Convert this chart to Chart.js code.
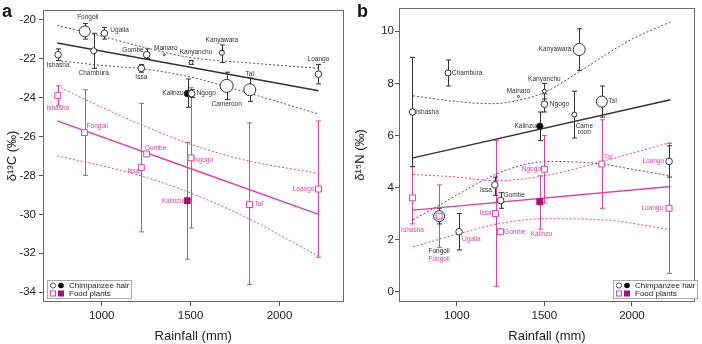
<!DOCTYPE html>
<html>
<head>
<meta charset="utf-8">
<script src="https://cdn.jsdelivr.net/npm/chart.js@4.4.1/dist/chart.umd.min.js"></script>
<style>
  html, body { margin: 0; padding: 0; background: #fff; }
  #wrap { position: relative; width: 702px; height: 344px; }
  canvas { position: absolute; top: 0; }
  #chartA { left: 0; }
  #chartB { left: 351px; }
</style>
</head>
<body>
<div id="wrap">
  <canvas id="chartA" width="351" height="344"></canvas>
  <canvas id="chartB" width="351" height="344"></canvas>
</div>
<script>
const FONT = "'Liberation Sans', Arial, sans-serif";
const DARK = '#333333';
const PINK = '#d944a5';
const PLUM = '#a3136f';

// tick labels
const rainTicks = [1000, 1500, 2000];
const c13Ticks = [-34, -32, -30, -28, -26, -24, -22, -20];
const n15Ticks = [0, 2, 4, 6, 8, 10];

// ---------- panel a: delta 13C ----------
const hairSitesA = ['Ishasha', 'Fongoli', 'Chambura', 'Ugalla', 'Issa', 'Gombe', 'Mainaro', 'Kalinzu', 'Kanyanchu', 'Ngogo', 'Kanyawara', 'Cameroon', 'Tai', 'Loango'];
const hairRainA = [755, 905, 955, 1015, 1223, 1253, 1352, 1483, 1502, 1506, 1676, 1703, 1833, 2219];
const hairC13 = [-21.8, -20.6, -21.6, -20.7, -22.5, -21.8, -21.8, -23.8, -22.2, -23.8, -21.7, -23.4, -23.6, -22.8];
const hairC13Hi = [-21.5, -20.2, -20.7, -20.4, -22.3, -21.5, null, -23.05, -22.1, -23.6, -21.3, -22.7, -23.0, -22.3];
const hairC13Lo = [-22.1, -21.0, -22.5, -21.0, -22.7, -22.0, null, -24.5, -22.3, -24.0, -22.2, -24.1, -24.2, -23.3];

const plantSitesA = ['Ishasha', 'Fongoli', 'Issa', 'Gombe', 'Kalinzu', 'Ngogo', 'Tai', 'Loango'];
const plantRainA = [753, 904, 1223, 1253, 1481, 1502, 1831, 2219];
const plantC13 = [-23.9, -25.8, -27.6, -26.9, -29.3, -27.1, -29.5, -28.7];
const plantC13Hi = [-23.4, -23.6, -24.3, null, -26.3, -23.5, -25.3, -25.2];
const plantC13Lo = [-24.4, -28.0, -30.9, null, -32.3, -30.7, -33.6, -32.2];

const fitRain = [750, 2220];
const hairFitC13 = [-21.2, -23.65];
const plantFitC13 = [-25.2, -30.0];
const bandRainA = [750, 1000, 1250, 1500, 1800, 2220];
const hairC13Upper = [-20.3, -20.85, -21.45, -21.95, -22.2, -22.5];
const hairC13Lower = [-22.1, -22.35, -22.55, -22.95, -23.7, -24.85];
const plantC13Upper = [-23.4, -24.5, -25.5, -26.4, -27.2, -27.9];
const plantC13Lower = [-27.0, -27.5, -28.1, -28.9, -30.1, -32.15];

// ---------- panel b: delta 15N ----------
const hairSitesB = ['Ishasha', 'Fongoli', 'Chambura', 'Ugalla', 'Issa', 'Gombe', 'Mainaro', 'Kalinzu', 'Kanyanchu', 'Ngogo', 'Cameroon', 'Kanyawara', 'Tai', 'Loango'];
const hairRainB = [747, 899, 950, 1013, 1217, 1250, 1352, 1474, 1500, 1500, 1671, 1699, 1828, 2212];
const hairN15 = [6.9, 2.9, 8.4, 2.3, 4.1, 3.5, 7.5, 6.35, 7.7, 7.2, 6.8, 9.3, 7.3, 5.0];
const hairN15Hi = [9.0, 3.2, 8.9, 3.0, 4.4, 3.8, null, 6.9, 8.0, 7.6, 7.7, 10.1, 7.9, 5.6];
const hairN15Lo = [4.8, 2.6, 7.9, 1.6, 3.7, 3.2, null, 5.8, 7.4, 6.9, 5.9, 8.5, 6.7, 4.4];

const plantSitesB = ['Ishasha', 'Fongoli', 'Issa', 'Gombe', 'Kalinzu', 'Ngogo', 'Tai', 'Loango'];
const plantRainB = [747, 899, 1221, 1250, 1474, 1500, 1828, 2212];
const plantN15 = [3.6, 2.9, 3.0, 2.3, 3.45, 4.7, 4.9, 3.2];
const plantN15Hi = [4.8, 4.1, 5.8, null, 4.45, 6.0, 6.6, 5.7];
const plantN15Lo = [2.6, 1.7, 0.2, null, 2.4, 3.4, 3.2, 0.7];

const hairFitN15 = [5.14, 7.37];
const plantFitN15 = [3.13, 4.04];
const hairUpperRainB = [750, 1000, 1200, 1350, 1500, 1700, 1850, 2000, 2220];
const hairN15Upper = [7.52, 7.3, 7.22, 7.35, 7.65, 8.45, 9.1, 9.7, 10.36];
const hairLowerRainB = [750, 900, 1000, 1220, 1400, 1550, 1830, 2000, 2220];
const hairN15Lower = [2.76, 3.32, 3.71, 4.5, 4.9, 5.0, 4.9, 4.7, 4.45];
const plantBandRainB = [750, 1000, 1220, 1500, 1830, 2220];
const plantN15Upper = [4.5, 4.4, 4.26, 4.45, 5.0, 5.73];
const plantN15Lower = [1.72, 2.2, 2.58, 2.8, 2.76, 2.38];

// marker radii (sample size), per panel
const hairRadiusA = [3.3, 5.5, 3, 3.3, 3.3, 3.3, 1, 3.3, 2, 3.3, 2.5, 6.5, 6, 3.3];
const hairRadiusB = [3.3, 5.5, 3, 3.3, 3.3, 3.3, 1, 3.3, 2, 3.3, 2.5, 6, 5.5, 3.3];

function pts(xs, ys) {
    return xs.map((x, i) => ({ x: x, y: ys[i] }));
}

function line(xs, ys, color, dash, width) {
    return {
        data: pts(xs, ys), showLine: true, pointRadius: 0,
        borderColor: color, borderWidth: width, borderDash: dash,
        cubicInterpolationMode: 'monotone', fill: false
    };
}

function buildDatasets(p) {
    const hairFill = p.hair.sites.map(s => s === 'Kalinzu' ? '#000' : '#fff');
    const plantFill = p.plant.sites.map(s => s === 'Kalinzu' ? PLUM : '#fff');
    const plantBorder = p.plant.sites.map(s => s === 'Kalinzu' ? PLUM : PINK);
    return [
        { data: pts(p.plant.x, p.plant.y), pointStyle: 'rect', pointRadius: 4.2,
          pointBackgroundColor: plantFill, pointBorderColor: plantBorder, pointBorderWidth: 1, showLine: false },
        { data: pts(p.hair.x, p.hair.y), pointStyle: 'circle', pointRadius: p.hair.r,
          pointBackgroundColor: hairFill, pointBorderColor: DARK, pointBorderWidth: 1, showLine: false },
        line(fitRain, p.hairFit, DARK, [], 1.4),
        line(p.hairUpX, p.hairUp, '#555', [2, 2], 1),
        line(p.hairLoX, p.hairLo, '#555', [2, 2], 1),
        line(fitRain, p.plantFit, PINK, [], 1.4),
        line(p.plantBandX, p.plantUp, PINK, [2, 2], 1),
        line(p.plantBandX, p.plantLo, PINK, [2, 2], 1)
    ];
}

function makeDecor(p) {
    return {
        id: 'decor',
        beforeDatasetsDraw(chart) {
            const ctx = chart.ctx, xs = chart.scales.x, ys = chart.scales.y;
            ctx.save();
            ctx.lineWidth = 1;
            [[p.plant, PINK], [p.hair, DARK]].forEach(([s, col]) => {
                s.x.forEach((rx, i) => {
                    if (s.hi[i] == null) return;
                    const x = Math.round(xs.getPixelForValue(rx)) + 0.5;
                    const y1 = ys.getPixelForValue(s.hi[i]);
                    const y2 = ys.getPixelForValue(s.lo[i]);
                    ctx.strokeStyle = col;
                    ctx.beginPath();
                    ctx.moveTo(x, y1); ctx.lineTo(x, y2);
                    ctx.moveTo(x - 2.5, y1); ctx.lineTo(x + 2.5, y1);
                    ctx.moveTo(x - 2.5, y2); ctx.lineTo(x + 2.5, y2);
                    ctx.stroke();
                });
            });
            ctx.restore();
        },
        afterDatasetsDraw(chart) {
            const ctx = chart.ctx, xs = chart.scales.x, ys = chart.scales.y;
            ctx.save();
            ctx.font = '6.5px ' + FONT;
            ctx.textBaseline = 'middle';
            p.labels.forEach(l => {
                const s = p[l[0]];
                const i = s.sites.indexOf(l[1]);
                const x = xs.getPixelForValue(s.x[i]) + l[3];
                const y = ys.getPixelForValue(s.y[i]) + l[4];
                ctx.fillStyle = l[6] || (l[0] === 'hair' ? DARK : PINK);
                ctx.textAlign = l[5];
                ctx.fillText(l[2], x, y);
            });
            ctx.restore();
        },
        afterDraw(chart) {
            const ctx = chart.ctx, a = chart.chartArea;
            ctx.save();
            // plot box
            ctx.strokeStyle = '#6a6a6a';
            ctx.lineWidth = 1;
            ctx.strokeRect(Math.round(a.left) + 0.5, Math.round(a.top) + 0.5,
                Math.round(a.right - a.left) - 1, Math.round(a.bottom - a.top) - 1);
            // legend
            const lx = p.legendX, ly = a.bottom - 22;
            ctx.fillStyle = '#fff';
            ctx.fillRect(lx, ly, 84, 18);
            ctx.strokeStyle = '#aaa';
            ctx.strokeRect(lx + 0.5, ly + 0.5, 84, 18);
            const r1 = ly + 5.5, r2 = ly + 13.5;
            ctx.lineWidth = 1;
            ctx.strokeStyle = '#555';
            ctx.beginPath(); ctx.arc(lx + 6, r1, 2.6, 0, Math.PI * 2); ctx.stroke();
            ctx.fillStyle = '#000';
            ctx.beginPath(); ctx.arc(lx + 14, r1, 2.8, 0, Math.PI * 2); ctx.fill();
            ctx.strokeStyle = PINK;
            ctx.strokeRect(lx + 3.5, r2 - 2.5, 5, 5);
            ctx.fillStyle = PLUM;
            ctx.fillRect(lx + 11, r2 - 3, 6, 6);
            ctx.fillStyle = '#222';
            ctx.font = '8px ' + FONT;
            ctx.textBaseline = 'middle';
            ctx.textAlign = 'left';
            ctx.fillText('Chimpanzee hair', lx + 22, r1);
            ctx.fillText('Food plants', lx + 22, r2);
            // panel letter
            ctx.font = 'bold 18px ' + FONT;
            ctx.textBaseline = 'alphabetic';
            ctx.fillStyle = '#111';
            ctx.fillText(p.letter, p.letterX, 17);
            ctx.restore();
        }
    };
}

function makeOptions(p) {
    const tickFont = { family: FONT, size: 11.5 };
    return {
        responsive: false,
        animation: false,
        layout: { padding: { left: 0, right: p.padRight, top: 2, bottom: 0 } },
        plugins: { legend: { display: false }, tooltip: { enabled: false } },
        scales: {
            x: {
                type: 'linear', min: 670, max: 2360,
                border: { display: false },
                grid: { drawOnChartArea: false, tickLength: 4, color: '#555' },
                ticks: { padding: 3, color: '#222', font: tickFont, callback: v => String(v) },
                afterBuildTicks: s => { s.ticks = rainTicks.map(v => ({ value: v })); },
                title: { display: true, text: 'Rainfall (mm)', color: '#222',
                         font: { family: FONT, size: 13 }, padding: { top: 0, bottom: 0 } },
                afterFit: s => { s.height = 42; }
            },
            y: {
                type: 'linear', min: p.yMin, max: p.yMax,
                border: { display: false },
                grid: { drawOnChartArea: false, tickLength: 4, color: '#555' },
                ticks: { padding: p.tickPad, color: '#222', font: tickFont, callback: v => String(v) },
                afterBuildTicks: s => { s.ticks = p.yTicks.map(v => ({ value: v })); },
                title: { display: true, text: p.yTitle, color: '#222',
                         font: { family: FONT, size: 13 }, padding: { top: p.titlePad, bottom: 0 } },
                afterFit: s => { s.width = p.yWidth; }
            }
        }
    };
}

const panelA = {
    hair: { sites: hairSitesA, x: hairRainA, y: hairC13, hi: hairC13Hi, lo: hairC13Lo, r: hairRadiusA },
    plant: { sites: plantSitesA, x: plantRainA, y: plantC13, hi: plantC13Hi, lo: plantC13Lo },
    hairFit: hairFitC13, plantFit: plantFitC13,
    hairUpX: bandRainA, hairUp: hairC13Upper, hairLoX: bandRainA, hairLo: hairC13Lower,
    plantBandX: bandRainA, plantUp: plantC13Upper, plantLo: plantC13Lower,
    yMin: -34.5, yMax: -19.5, yTicks: c13Ticks, yTitle: 'δ¹³C (‰)', yWidth: 43, padRight: 7, tickPad: 3, titlePad: 5,
    letter: 'a', letterX: 2, legendX: 47,
    labels: [
        ['hair', 'Ishasha', 'Ishasha', 0, 11, 'center'],
        ['hair', 'Fongoli', 'Fongoli', 3, -14, 'center'],
        ['hair', 'Chambura', 'Chambura', 0, 22, 'center'],
        ['hair', 'Ugalla', 'Ugalla', 6, -3, 'left'],
        ['hair', 'Gombe', 'Gombe', -3, -4, 'right'],
        ['hair', 'Issa', 'Issa', 0, 9, 'center'],
        ['hair', 'Mainaro', 'Mainaro', 1.5, -6.5, 'center'],
        ['hair', 'Kanyanchu', 'Kanyanchu', 5, -10, 'center'],
        ['hair', 'Kanyawara', 'Kanyawara', 0, -12.5, 'center'],
        ['hair', 'Loango', 'Loango', 0, -15, 'center'],
        ['hair', 'Kalinzu', 'Kalinzu', -4, 0, 'right'],
        ['hair', 'Ngogo', 'Ngogo', 5, 0, 'left'],
        ['hair', 'Cameroon', 'Cameroon', 0, 18, 'center'],
        ['hair', 'Tai', 'Taï', 0, -16, 'center'],
        ['plant', 'Ishasha', 'Ishasha', 0, 12.7, 'center'],
        ['plant', 'Fongoli', 'Fongoli', 2, -6, 'left'],
        ['plant', 'Gombe', 'Gombe', 9, -6, 'center'],
        ['plant', 'Issa', 'Issa', -2, 4, 'right'],
        ['plant', 'Ngogo', 'Ngogo', 3, 2, 'left'],
        ['plant', 'Kalinzu', 'Kalinzu', -4, 0, 'right'],
        ['plant', 'Tai', 'Taï', 5, 0, 'left'],
        ['plant', 'Loango', 'Loango', -4, 0, 'right']
    ]
};

const panelB = {
    hair: { sites: hairSitesB, x: hairRainB, y: hairN15, hi: hairN15Hi, lo: hairN15Lo, r: hairRadiusB },
    plant: { sites: plantSitesB, x: plantRainB, y: plantN15, hi: plantN15Hi, lo: plantN15Lo },
    hairFit: hairFitN15, plantFit: plantFitN15,
    hairUpX: hairUpperRainB, hairUp: hairN15Upper, hairLoX: hairLowerRainB, hairLo: hairN15Lower,
    plantBandX: plantBandRainB, plantUp: plantN15Upper, plantLo: plantN15Lower,
    yMin: -0.4, yMax: 10.9, yTicks: n15Ticks, yTitle: 'δ¹⁵N (‰)', yWidth: 48, padRight: 2, tickPad: 1, titlePad: 2,
    letter: 'b', letterX: 6, legendX: 262,
    labels: [
        ['hair', 'Ishasha', 'Ishasha', 3.5, 0, 'left'],
        ['hair', 'Chambura', 'Chambura', 4, 0, 'left'],
        ['hair', 'Mainaro', 'Mainaro', 0, -5.5, 'center'],
        ['hair', 'Kanyanchu', 'Kanyanchu', 0, -12, 'center'],
        ['hair', 'Ngogo', 'Ngogo', 5.5, 0, 'left'],
        ['hair', 'Kalinzu', 'Kalinzu', -4, 0, 'right'],
        ['hair', 'Cameroon', 'Came', 10, 12, 'center'],
        ['hair', 'Cameroon', 'roon', 10, 18, 'center'],
        ['hair', 'Kanyawara', 'Kanyawara', -8, 0, 'right'],
        ['hair', 'Tai', 'Taï', 6.5, 0, 'left'],
        ['hair', 'Loango', 'Loango', -5, 0, 'right', PINK],
        ['hair', 'Issa', 'Issa', -3, 5, 'right'],
        ['hair', 'Gombe', 'Gombe', 3, -5, 'left'],
        ['hair', 'Fongoli', 'Fongoli', 0, 35, 'center'],
        ['hair', 'Ugalla', 'Ugalla', 3, 7, 'left', PINK],
        ['plant', 'Ishasha', 'Ishasha', 0, 32, 'center'],
        ['plant', 'Fongoli', 'Fongoli', 0, 42.7, 'center'],
        ['plant', 'Issa', 'Issa', -4, 0, 'right'],
        ['plant', 'Gombe', 'Gombe', 3.5, 0, 'left'],
        ['plant', 'Ngogo', 'Ngogo', -3.5, 0, 'right'],
        ['plant', 'Kalinzu', 'Kalinzu', 1.6, 32, 'center'],
        ['plant', 'Tai', 'Taï', 6.6, -6.4, 'center'],
        ['plant', 'Loango', 'Loango', -6, 0, 'right']
    ]
};

[['chartA', panelA], ['chartB', panelB]].forEach(([id, p]) => {
    new Chart(document.getElementById(id).getContext('2d'), {
        type: 'scatter',
        data: { datasets: buildDatasets(p) },
        options: makeOptions(p),
        plugins: [makeDecor(p)]
    });
});
</script>
</body>
</html>
